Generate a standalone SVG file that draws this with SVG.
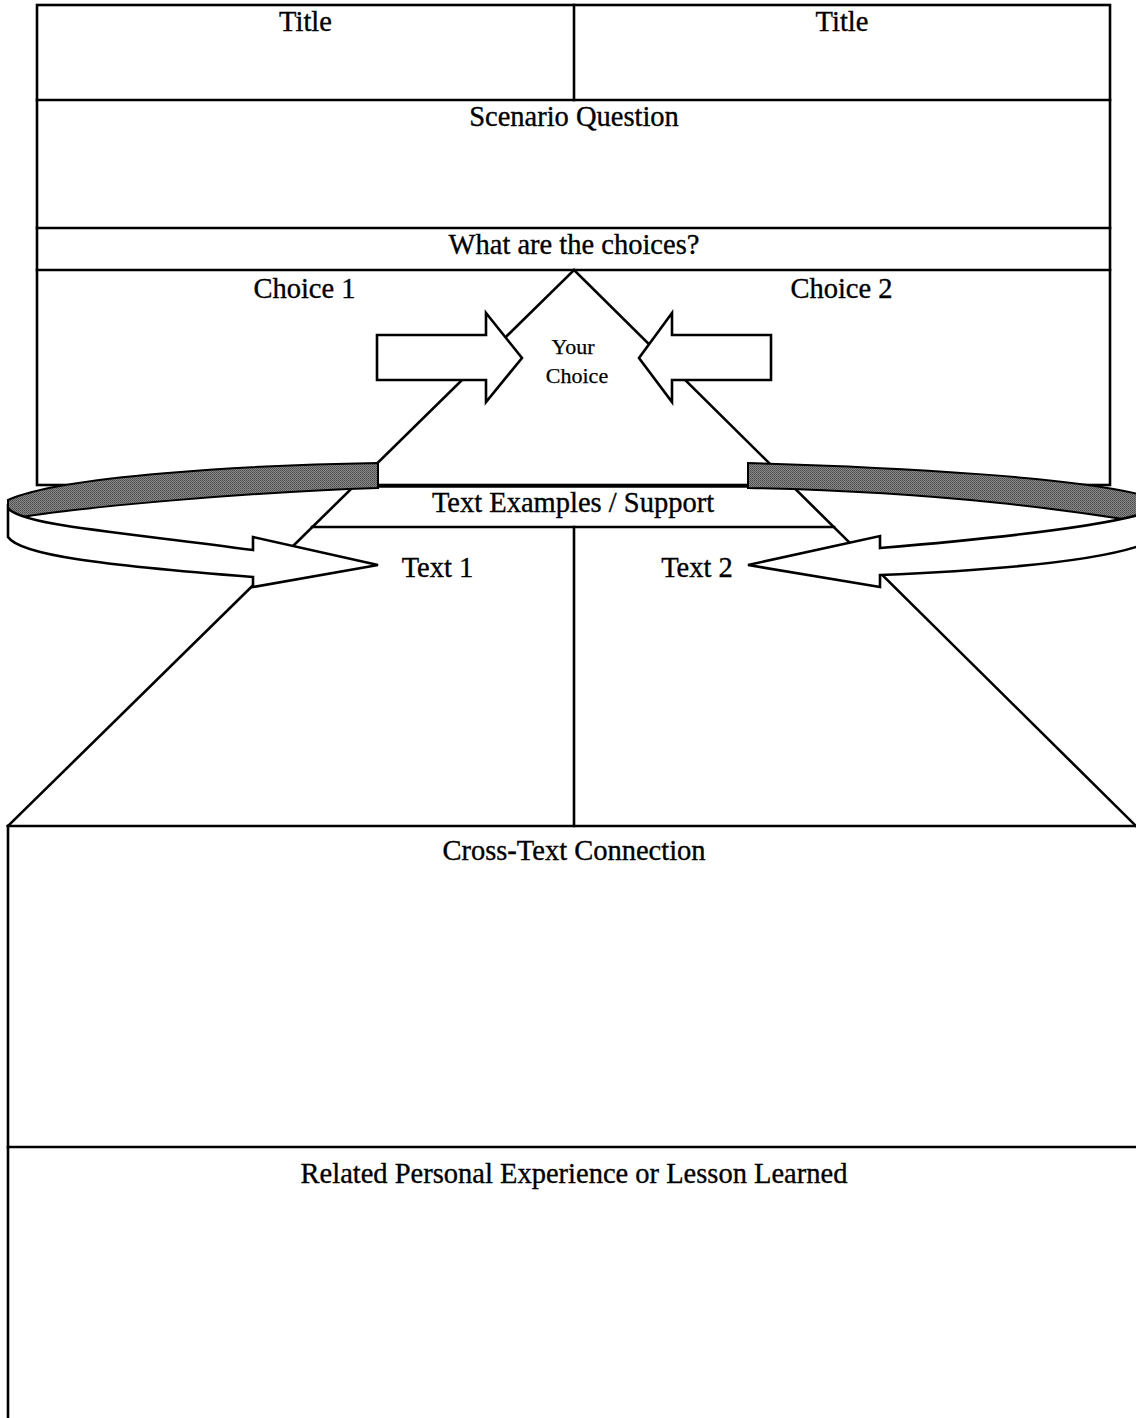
<svg xmlns="http://www.w3.org/2000/svg" width="1136" height="1418" viewBox="0 0 1136 1418">
<style>
.ln{stroke:#000;stroke-width:2.6;fill:none;stroke-linecap:square}
.lbl{font-family:"Liberation Serif","Times New Roman",serif;font-size:28.5px;fill:#000;stroke:#000;stroke-width:0.35;text-anchor:middle}
.sm{font-size:22px;stroke-width:0.25}
.wh{fill:#fff;stroke:#000;stroke-width:2.6;stroke-linejoin:miter}
.dk{fill:url(#halftone);stroke:#000;stroke-width:2}
</style>
<defs>
<pattern id="halftone" width="2" height="2" patternUnits="userSpaceOnUse">
<rect width="2" height="2" fill="#8a8a8a"/>
<rect x="0" y="0" width="1" height="1" fill="#4a4a4a"/>
<rect x="1" y="1" width="1" height="1" fill="#5a5a5a"/>
</pattern>
</defs>
<rect width="1136" height="1418" fill="#fff"/>

<g id="frame">
<rect class="ln" x="37" y="5" width="1073" height="480"/>
<line class="ln" x1="574" y1="5" x2="574" y2="100"/>
<line class="ln" x1="37" y1="100" x2="1110" y2="100"/>
<line class="ln" x1="37" y1="228" x2="1110" y2="228"/>
<line class="ln" x1="37" y1="270" x2="1110" y2="270"/>
<line x1="378" y1="486" x2="748" y2="486" stroke="#000" stroke-width="3.5"/>
</g>

<g id="pyramid">
<line class="ln" x1="574" y1="270" x2="8" y2="826"/>
<line class="ln" x1="574" y1="270" x2="1136" y2="826"/>
<line class="ln" x1="312" y1="527" x2="834" y2="527"/>
<line class="ln" x1="574" y1="527" x2="574" y2="826"/>
<line class="ln" x1="8" y1="826" x2="1136" y2="826"/>
<line class="ln" x1="8" y1="826" x2="8" y2="1418"/>
<line class="ln" x1="8" y1="1147" x2="1136" y2="1147"/>
</g>

<g id="ribbon">
<path class="dk" d="M378,463 C250,465 60,476 8,500 L8,508 Q10,515 16,518 C80,507 250,492 378,488 Z"/>
<path class="wh" d="M8,508 C20,525 120,532 253,550 L253,537 L378,565 L253,587 L253,577 C100,565 20,555 8,537 Z"/>
<path class="dk" d="M748,463 C900,467 1080,478 1142,495 L1142,522 C1080,512 950,492 748,488 Z"/>
<path class="wh" d="M1142,514 C1100,526 1000,538 880,548 L880,536 L748,565 L880,587 L880,575 C1000,570 1100,560 1142,545 Z"/>
</g>

<g id="choice-arrows">
<path class="wh" d="M377,335 L486,335 L486,313 L522,358 L486,402 L486,380 L377,380 Z"/>
<path class="wh" d="M771,335 L672,335 L672,313 L639,358 L672,402 L672,380 L771,380 Z"/>
</g>

<g id="labels">
<text class="lbl" x="305.5" y="31">Title</text>
<text class="lbl" x="842" y="31">Title</text>
<text class="lbl" x="574" y="126">Scenario Question</text>
<text class="lbl" x="574" y="254">What are the choices?</text>
<text class="lbl" x="304.5" y="298">Choice 1</text>
<text class="lbl" x="841.5" y="298">Choice 2</text>
<text class="lbl sm" x="573" y="354">Your</text>
<text class="lbl sm" x="577" y="383">Choice</text>
<text class="lbl" x="573" y="512">Text Examples / Support</text>
<text class="lbl" x="437.5" y="577">Text 1</text>
<text class="lbl" x="697" y="577">Text 2</text>
<text class="lbl" x="574" y="860">Cross-Text Connection</text>
<text class="lbl" x="574" y="1183">Related Personal Experience or Lesson Learned</text>
</g>
</svg>
